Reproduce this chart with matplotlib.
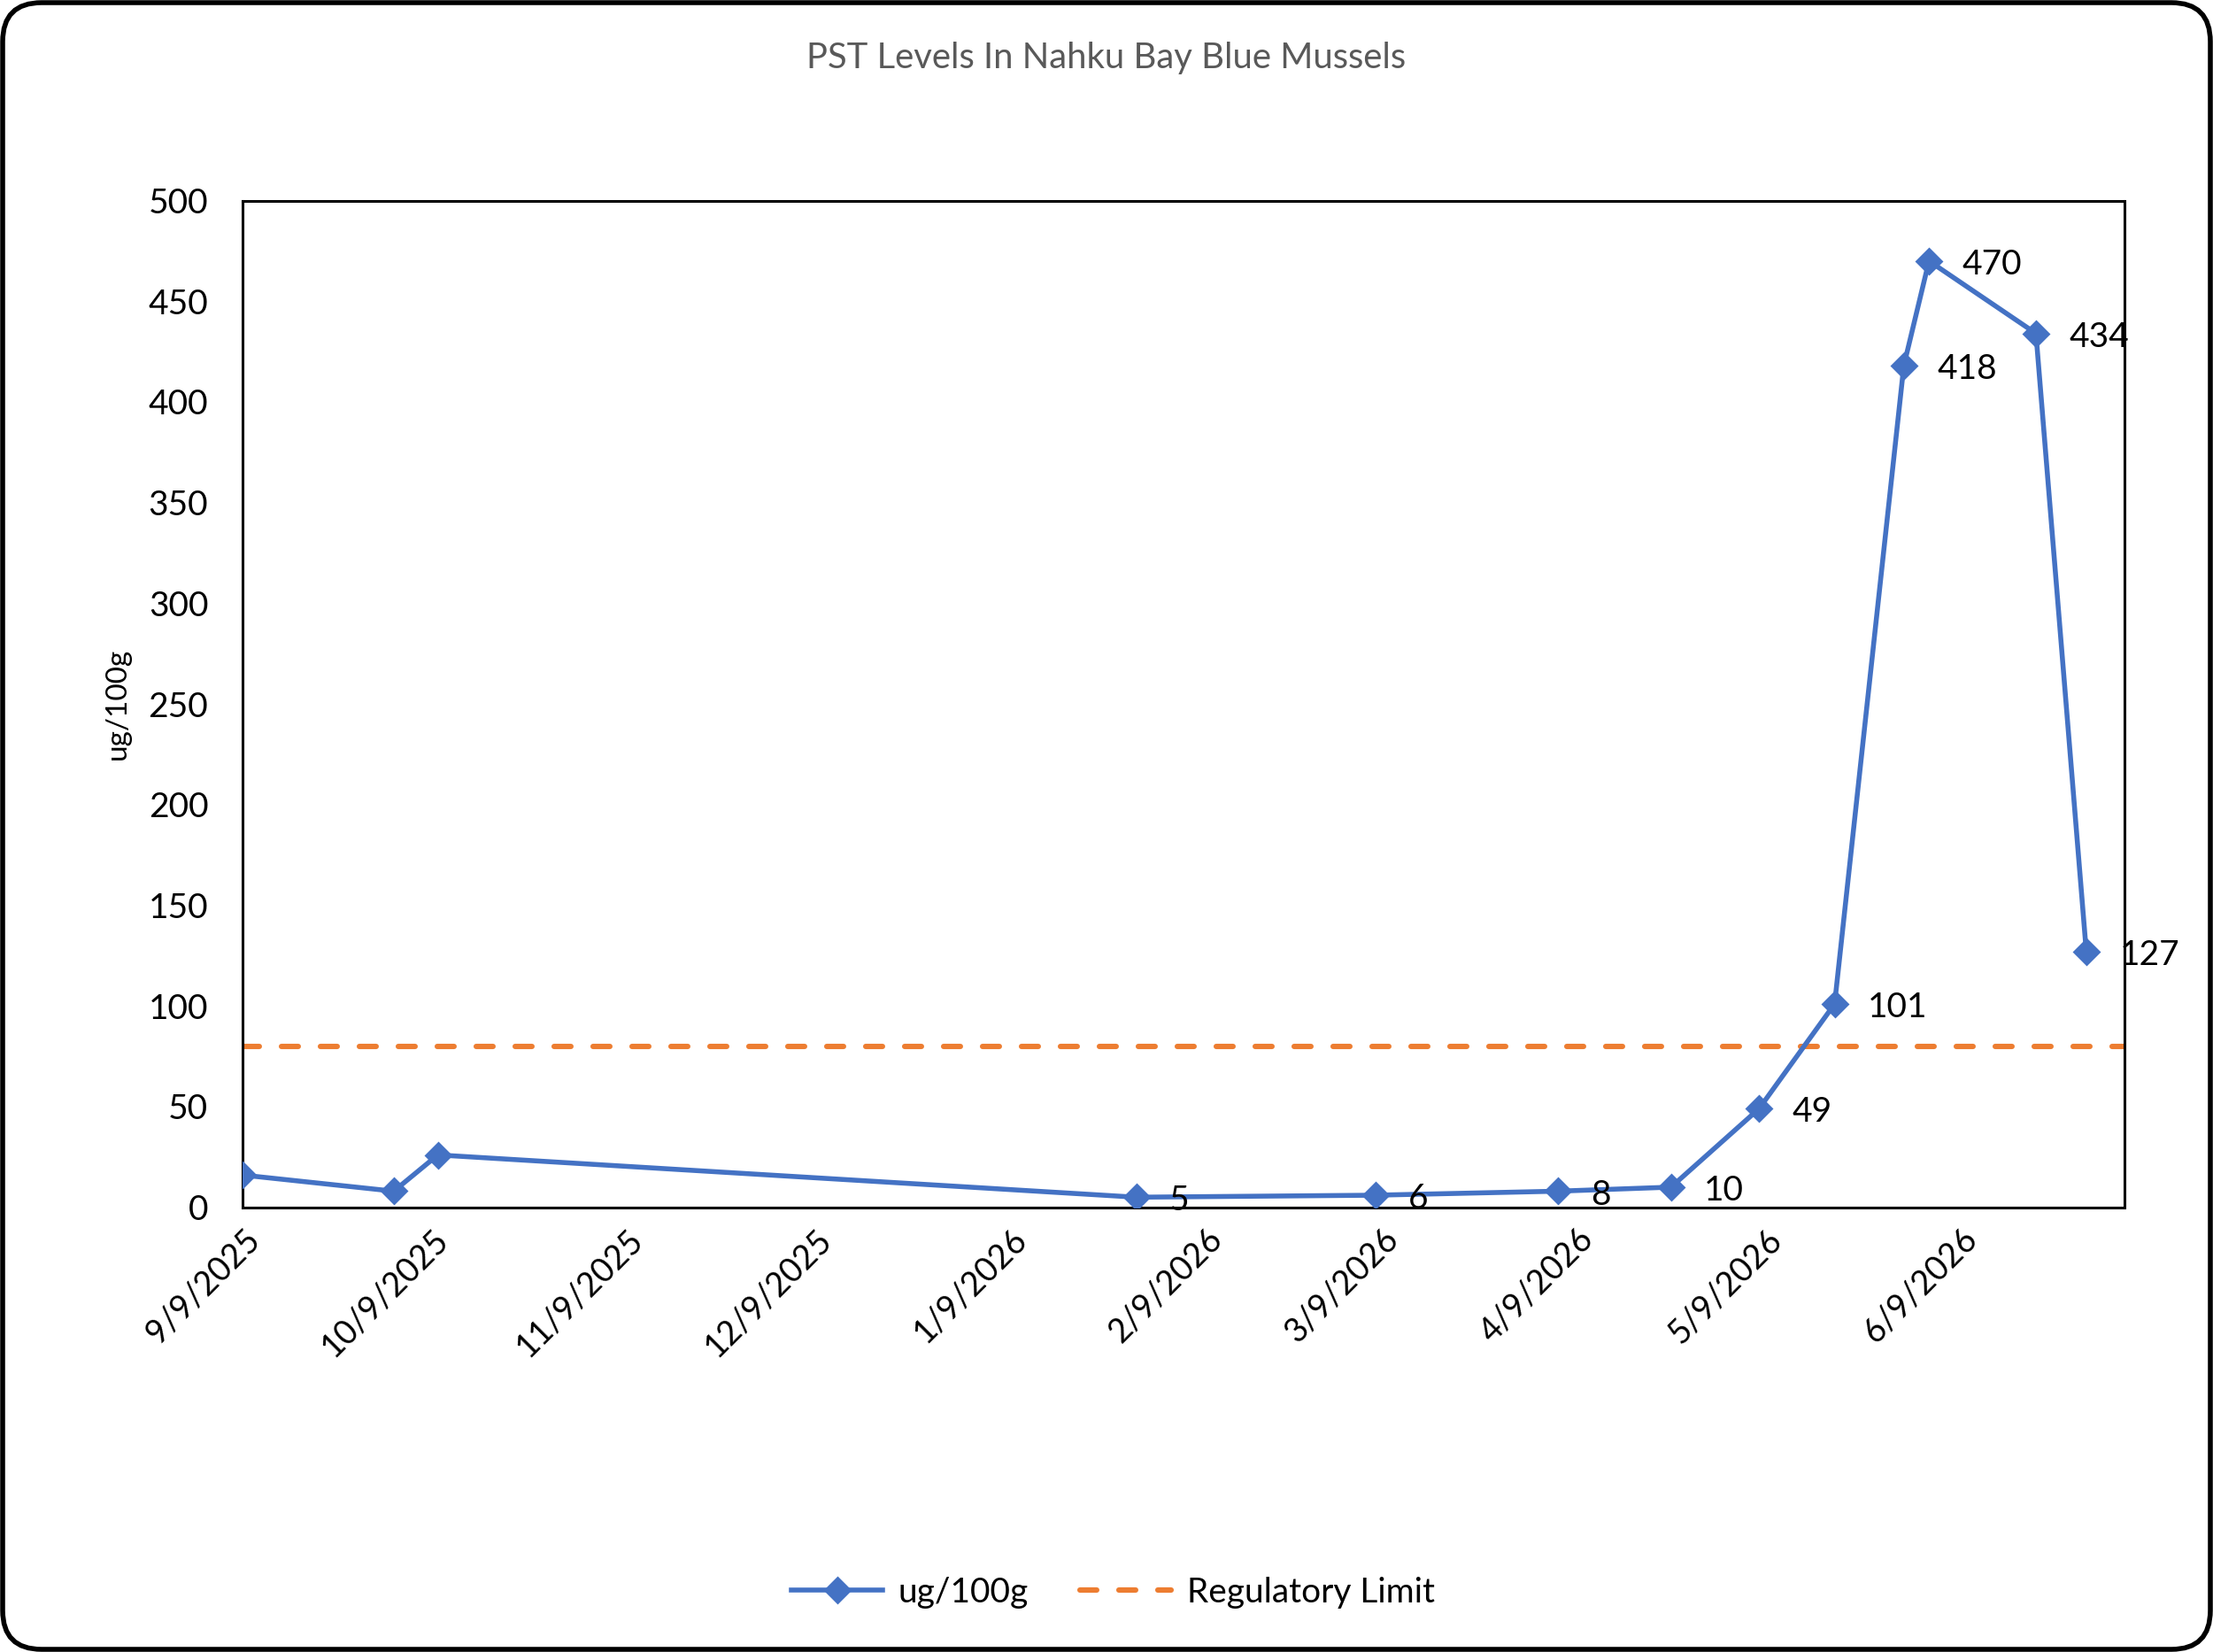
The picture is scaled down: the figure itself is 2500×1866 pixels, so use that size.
import matplotlib
matplotlib.use("Agg")
import matplotlib.pyplot as plt
from matplotlib.patches import FancyBboxPatch
from matplotlib.transforms import ScaledTranslation
import pandas as pd

plt.rcParams['font.family'] = ['Lato', 'DejaVu Sans']

# ---- data ----
sample_dates = ["9/9/2025", "10/3/2025", "10/10/2025", "1/29/2026", "3/8/2026",
                "4/6/2026", "4/24/2026", "5/8/2026", "5/20/2026", "5/31/2026",
                "6/4/2026", "6/21/2026", "6/29/2026"]
pst_values = [16, 8, 26, 5, 6, 8, 10, 49, 101, 418, 470, 434, 127]
labelled_from = 3  # first points carry no data label
regulatory_limit = 80
tick_labels = ["9/9/2025", "10/9/2025", "11/9/2025", "12/9/2025", "1/9/2026",
               "2/9/2026", "3/9/2026", "4/9/2026", "5/9/2026", "6/9/2026"]
x_range = ["9/9/2025", "7/5/2026"]
y_ticks = [0, 50, 100, 150, 200, 250, 300, 350, 400, 450, 500]

title = "PST Levels In Nahku Bay Blue Mussels"
y_label = "ug/100g"
series_name = "ug/100g"
limit_name = "Regulatory Limit"

blue = "#4472C4"
orange = "#ED7D31"

x = pd.to_datetime(sample_dates, format="%m/%d/%Y")
xt = pd.to_datetime(tick_labels, format="%m/%d/%Y")
xr = pd.to_datetime(x_range, format="%m/%d/%Y")

fig = plt.figure(figsize=(12.5, 9.33), dpi=200)
ax = fig.add_axes([0.1097, 0.2692, 0.9598 - 0.1097, 0.8786 - 0.2692])

ax.plot(x, pst_values, color=blue, lw=2.0, marker="D", markersize=7,
        label=series_name, zorder=3)
ax.plot(xr, [regulatory_limit, regulatory_limit], color=orange, lw=2.2,
        ls=(0, (3.1, 4.1)), dash_capstyle="round", label=limit_name, zorder=2)

for xi, v in list(zip(x, pst_values))[labelled_from:]:
    ax.annotate(str(v), (xi, v), xytext=(13.5, -1.5), textcoords="offset points",
                ha="left", va="center", fontsize=14, color="black", zorder=4)

ax.set_xlim(xr[0], xr[1])
ax.set_ylim(0, 500)
ax.set_yticks(y_ticks)
ax.set_yticklabels([str(t) for t in y_ticks], fontsize=14)
ax.set_xticks(xt)
ax.set_xticklabels(tick_labels, rotation=45, ha="right", va="center",
                   rotation_mode="anchor", fontsize=13.5)
ax.tick_params(axis="both", length=0)
ax.tick_params(axis="y", pad=14)
ax.tick_params(axis="x", pad=11)
shift = ScaledTranslation(0.065, 0, fig.dpi_scale_trans)
for lbl in ax.get_xticklabels():
    lbl.set_transform(lbl.get_transform() + shift)
for s in ax.spines.values():
    s.set_linewidth(1.1)
    s.set_color("black")

ax.set_ylabel(y_label, fontsize=12, labelpad=7)
fig.text(0.5, 0.965, title, ha="center", va="center", fontsize=14.4, color="#595959")

fig.legend(loc="center", bbox_to_anchor=(0.503, 0.036), ncol=2, frameon=False,
           fontsize=14, handlelength=2.65, columnspacing=1.5, handletextpad=0.45)

W, H = fig.get_size_inches()
border = FancyBboxPatch((0.015, 0.015), W - 0.03, H - 0.03,
                        boxstyle="round,pad=0,rounding_size=0.22",
                        transform=fig.dpi_scale_trans, fill=False,
                        edgecolor="black", linewidth=2.0)
fig.patches.append(border)

fig.savefig("out.png", dpi=200, facecolor="white")
